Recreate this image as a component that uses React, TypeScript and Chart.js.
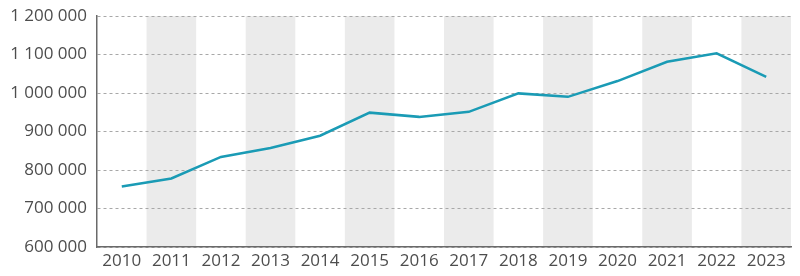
import React, { useEffect, useRef } from "react";
import { Chart, registerables } from "chart.js";

Chart.register(...registerables);

const years = ["2010","2011","2012","2013","2014","2015","2016","2017","2018","2019","2020","2021","2022","2023"];
const values = [757000, 778000, 834000, 857000, 889000, 949000, 938000, 951000, 999000, 990000, 1031000, 1081000, 1103000, 1042000];
const yMin = 600000;
const yMax = 1200000;
const yStep = 100000;

const fmt = (v: number) => String(Math.round(v)).replace(/\B(?=(\d{3})+(?!\d))/g, " ");

const bandsPlugin = {
  id: "bands",
  beforeDraw(chart: any) {
    const { ctx, chartArea, scales } = chart;
    const x = scales.x;
    ctx.save();
    ctx.fillStyle = "#ebebeb";
    for (let i = 1; i < years.length; i += 2) {
      const c = x.getPixelForValue(i);
      const half = (x.getPixelForValue(1) - x.getPixelForValue(0)) / 2;
      ctx.fillRect(c - half, chartArea.top, half * 2, chartArea.bottom - chartArea.top);
    }
    ctx.restore();
  },
};

export default function App() {
  const ref = useRef<HTMLCanvasElement>(null);
  useEffect(() => {
    if (!ref.current) return;
    const font = { family: "'Open Sans', sans-serif", size: 17 };
    const chart = new Chart(ref.current, {
      type: "line",
      data: {
        labels: years,
        datasets: [
          {
            data: values,
            borderColor: "#1a9bb5",
            borderWidth: 2.5,
            pointRadius: 0,
            tension: 0,
            fill: false,
          },
        ],
      },
      options: {
        animation: false,
        responsive: false,
        maintainAspectRatio: false,
        layout: { padding: { top: 16, right: 9, left: 0, bottom: 0 } },
        plugins: { legend: { display: false }, tooltip: { enabled: false } },
        scales: {
          x: {
            offset: true,
            grid: { display: false, drawTicks: false },
            border: { display: true, color: "#6a6a6a", width: 1.5 },
            ticks: { color: "#4d4d4d", font, maxRotation: 0, autoSkip: false, padding: 4 },
            afterFit(scale: any) { scale.height = 29; scale.paddingLeft = 0; scale.paddingRight = 0; },
          },
          y: {
            min: yMin,
            max: yMax,
            grid: { color: "#a8a8a8", drawTicks: false, lineWidth: 1 },
            border: { display: true, color: "#6a6a6a", width: 1.5, dash: [3, 3] as any },
            ticks: { stepSize: yStep, color: "#4d4d4d", font, padding: 10, callback: (v: any) => fmt(Number(v)) },
            afterFit(scale: any) { scale.width = 97; scale.paddingTop = 0; scale.paddingBottom = 0; },
          },
        },
      },
      plugins: [bandsPlugin],
    } as any);
    return () => chart.destroy();
  }, []);
  return (
    <div style={{ position: "fixed", left: 0, top: 0, width: 800, height: 276, background: "#fff" }}>
      <canvas ref={ref} width={800} height={276} style={{ width: 800, height: 276 }} />
    </div>
  );
}
